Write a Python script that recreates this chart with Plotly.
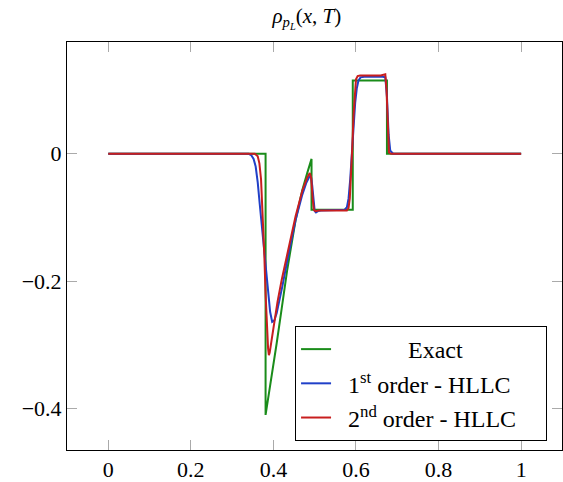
import plotly.graph_objects as go

# ---- data ----
x_exact = [0.0, 0.381, 0.381, 0.395, 0.408, 0.420, 0.4335, 0.4537, 0.470, 0.482, 0.4923,
           0.4923, 0.5922, 0.5922, 0.675, 0.675, 1.0]
y_exact = [0.0, 0.0, -0.410, -0.355, -0.297, -0.243, -0.182, -0.104, -0.057, -0.030, -0.008,
           -0.088, -0.088, 0.115, 0.115, 0.0, 0.0]

x_first = [0.0, 0.340, 0.346, 0.352, 0.357, 0.362, 0.367, 0.372, 0.377, 0.382, 0.387, 0.392,
           0.397, 0.402, 0.408, 0.415, 0.422, 0.4335, 0.4537, 0.470, 0.480, 0.487, 0.491,
           0.494, 0.497, 0.500, 0.503, 0.508, 0.515, 0.565, 0.572, 0.578, 0.582, 0.586,
           0.590, 0.594, 0.598, 0.602, 0.606, 0.611, 0.620, 0.665, 0.671, 0.675, 0.679,
           0.683, 0.690, 1.0]
y_first = [0.0, 0.0, -0.002, -0.008, -0.020, -0.045, -0.080, -0.115, -0.155, -0.190, -0.222,
           -0.248, -0.264, -0.262, -0.250, -0.230, -0.207, -0.168, -0.104, -0.064, -0.045,
           -0.036, -0.036, -0.050, -0.075, -0.090, -0.092, -0.090, -0.089, -0.089, -0.088,
           -0.084, -0.070, -0.040, 0.0, 0.045, 0.080, 0.103, 0.115, 0.120, 0.121, 0.121,
           0.120, 0.090, 0.030, 0.005, 0.0, 0.0]

x_second = [0.0, 0.355, 0.362, 0.366, 0.370, 0.374, 0.378, 0.381, 0.384, 0.387, 0.389, 0.391,
            0.395, 0.402, 0.410, 0.420, 0.4335, 0.4537, 0.470, 0.482, 0.488, 0.4915, 0.495,
            0.498, 0.502, 0.510, 0.578, 0.582, 0.585, 0.588, 0.591, 0.594, 0.597, 0.600,
            0.604, 0.610, 0.660, 0.668, 0.671, 0.674, 0.677, 0.680, 0.685, 1.0]
y_second = [0.0, 0.0, -0.004, -0.015, -0.040, -0.090, -0.160, -0.220, -0.270, -0.305, -0.316,
            -0.312, -0.295, -0.265, -0.232, -0.198, -0.160, -0.098, -0.058, -0.037, -0.030,
            -0.038, -0.070, -0.088, -0.090, -0.089, -0.089, -0.085, -0.070, -0.035, 0.010,
            0.060, 0.100, 0.117, 0.122, 0.123, 0.123, 0.124, 0.125, 0.100, 0.030, 0.002,
            0.0, 0.0]

x_ticks = [0, 0.2, 0.4, 0.6, 0.8, 1]
x_tick_labels = ["0", "0.2", "0.4", "0.6", "0.8", "1"]
y_ticks = [0, -0.2, -0.4]
y_tick_labels = ["0", "\u22120.2", "\u22120.4"]

NB = "&nbsp;"
names = [NB * 12 + "Exact",
         NB * 2 + "1<sup>st</sup> order - HLLC" + NB * 4,
         NB * 2 + "2<sup>nd</sup> order - HLLC" + NB * 4]
colors = ["#1a8c1a", "#2040c8", "#c81e1e"]

FONT = "Liberation Serif"

fig = go.Figure()
for i, (xs, ys) in enumerate([(x_exact, y_exact), (x_first, y_first), (x_second, y_second)]):
    fig.add_trace(go.Scatter(x=xs, y=ys, mode="lines", name=names[i],
                             legendgroup=str(i),
                             line=dict(color=colors[i], width=2)))

axis_common = dict(showline=True, linecolor="black", linewidth=1, mirror="allticks",
                   ticks="inside", ticklen=10, tickwidth=1.3, tickcolor="#aaaaaa",
                   showgrid=False, zeroline=False,
                   tickfont=dict(family=FONT, size=22, color="black"))

fig.update_layout(
    width=563, height=482,
    margin=dict(l=67, r=0, t=42, b=28),
    paper_bgcolor="white", plot_bgcolor="white",
    title=dict(text="<i>ρ<sub>p<sub>L</sub></sub></i>(<i>x</i>, <i>T</i>)",
               x=0.545, xanchor="center", y=0.968, yanchor="middle",
               font=dict(family=FONT, size=21, color="black")),
    xaxis=dict(range=[-0.1, 1.099], tickvals=x_ticks, ticktext=x_tick_labels, **axis_common),
    yaxis=dict(range=[-0.465, 0.1755], tickvals=y_ticks, ticktext=y_tick_labels, **axis_common),
    legend=dict(x=0.9698, xanchor="right", y=0.022, yanchor="bottom",
                bordercolor="black", borderwidth=1, bgcolor="white",
                traceorder="grouped", tracegroupgap=0,
                font=dict(family=FONT, size=24, color="black")),
    showlegend=True,
)

fig.write_html("out.html", config={"displayModeBar": False},
               post_script="document.body.style.margin='0';document.body.style.padding='0';")
